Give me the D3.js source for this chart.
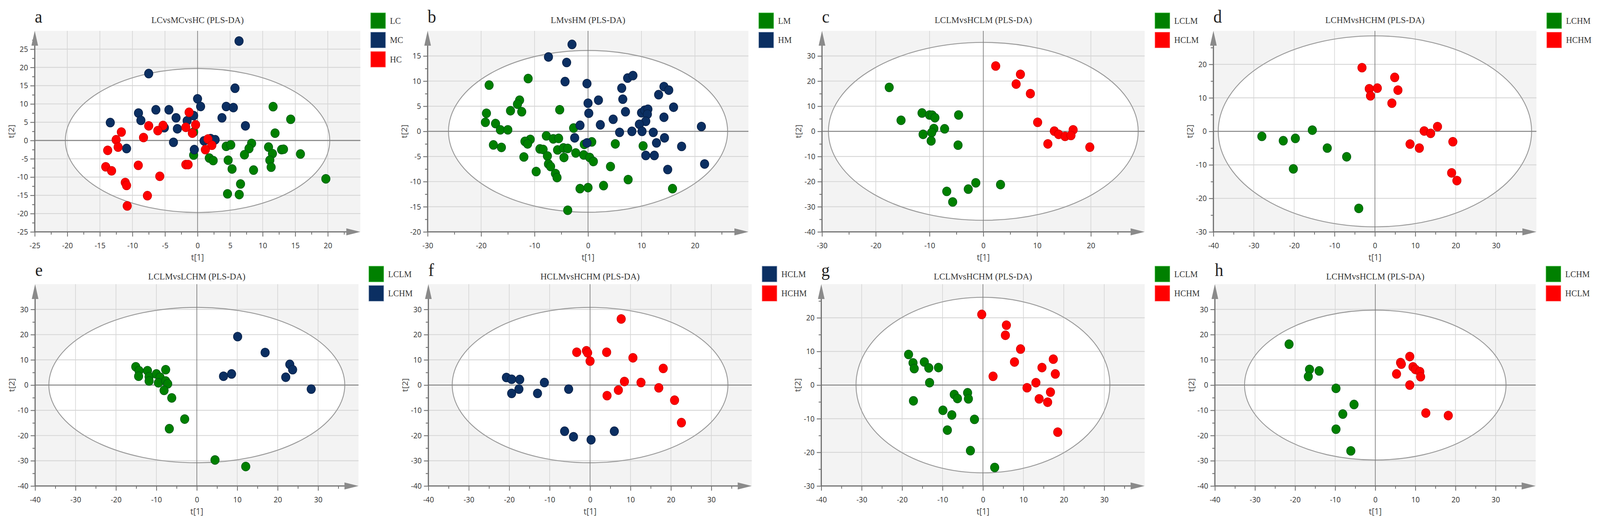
<!DOCTYPE html>
<html><head><meta charset="utf-8">
<script src="https://cdn.jsdelivr.net/npm/d3@7"></script>
<style>html,body{margin:0;padding:0;background:#fff;overflow:hidden;width:100%;height:100%;}svg{display:block;width:100vw;height:100vh;}</style>
</head><body>
<svg id="chart" viewBox="0 0 4329 1345" preserveAspectRatio="none"></svg>
<script>
// ---------------- DATA ----------------
const panelLetters = ["a","b","c","d","e","f","g","h"];
const panelTitles = ["LCvsMCvsHC (PLS-DA)","LMvsHM (PLS-DA)","LCLMvsHCLM (PLS-DA)","LCHMvsHCHM (PLS-DA)",
  "LCLMvsLCHM (PLS-DA)","HCLMvsHCHM (PLS-DA)","LCLMvsHCHM (PLS-DA)","LCHMvsHCLM (PLS-DA)"];
const xLabel = "t[1]";
const yLabel = "t[2]";
const xDomains = [[-25,25],[-30,30],[-30,30],[-40,40],[-40,40],[-40,40],[-40,40],[-40,40]];
const yDomains = [[-25,30],[-20,20],[-40,40],[-30,30],[-40,40],[-40,40],[-30,30],[-40,40]];
const xTickLabels = [
  [-25,-20,-15,-10,-5,0,5,10,15,20],
  [-30,-20,-10,0,10,20],
  [-30,-20,-10,0,10,20],
  [-40,-30,-20,-10,0,10,20,30],
  [-40,-30,-20,-10,0,10,20,30],
  [-40,-30,-20,-10,0,10,20,30],
  [-40,-30,-20,-10,0,10,20,30],
  [-40,-30,-20,-10,0,10,20,30]];
const yTickLabels = [
  [-25,-20,-15,-10,-5,0,5,10,15,20,25],
  [-20,-15,-10,-5,0,5,10,15],
  [-40,-30,-20,-10,0,10,20,30],
  [-30,-20,-10,0,10,20],
  [-40,-30,-20,-10,0,10,20,30],
  [-40,-30,-20,-10,0,10,20,30],
  [-30,-20,-10,0,10,20],
  [-40,-30,-20,-10,0,10,20,30]];
// Hotelling T2 ellipse semi-axes (t[1], t[2])
const ellipseT1 = [20.3,26.1,28.8,38.8,36.6,34.1,31.4,32.6];
const ellipseT2 = [19.7,16.1,35.4,28.5,30.8,30.8,26.1,29.7];
const groupNames = [["LC","MC","HC"],["LM","HM"],["LCLM","HCLM"],["LCHM","HCHM"],
  ["LCLM","LCHM"],["HCLM","HCHM"],["LCLM","HCHM"],["LCHM","HCLM"]];

// scores [t1, t2]
const a_LC = [[11.6,9.25],[14.3,5.8],[11.9,2.0],[-0.6,2.3],[4.4,-1.6],[5.1,-1.2],[8.3,-0.8],[7.9,-2.2],[7.2,-3.9],[10.9,-1.8],[11.5,-3.6],[12.9,-2.5],[13.2,-2.4],[15.8,-3.7],[-0.6,-4.0],[1.8,-4.8],[2.4,-5.5],[4.7,-5.4],[11.1,-5.4],[11.3,-7.3],[5.3,-7.8],[8.6,-8.1],[6.6,-11.9],[19.7,-10.5],[4.6,-14.6],[6.4,-14.8]];
const a_MC = [[6.37,27.2],[-7.5,18.3],[5.75,14.3],[0,11.4],[0.47,9.3],[4.4,9.3],[5.5,9.0],[-9.07,7.5],[-6.4,8.4],[-4.4,8.4],[-8.7,5.5],[-3.3,6.2],[-0.6,6.8],[-1.6,5.4],[3.75,6.2],[-13.4,4.9],[7.35,4.0],[-5.1,3.5],[-3.1,3.2],[-3.7,-0.5],[-10.9,-2.2],[1.0,-0.1],[2.0,0.5],[2.7,0.2],[-0.5,-2.5]];
const a_HC = [[-1.3,7.7],[-7.5,4.0],[-5.3,4.1],[-6.1,2.7],[-1.8,3.6],[-0.3,4.3],[-0.8,2.0],[-11.7,2.3],[-12.5,0.2],[-8.3,0.8],[-12.2,-1.8],[-13.8,-2.7],[1.6,0.4],[2.2,-1.3],[1.2,-2.5],[-14.1,-7.2],[-13.2,-8.3],[-9.1,-6.8],[-1.8,-6.6],[-1.45,-6.6],[-5.8,-9.8],[-11.1,-11.5],[-10.9,-12.3],[-7.7,-15.1],[-10.8,-17.9]];

const b_LM = [[-11.2,10.5],[-18.5,9.2],[-12.8,6.2],[-13.2,5.4],[-5.3,4.3],[-14.5,4.1],[-12.4,3.9],[-19.0,3.6],[-19.2,1.8],[-17.3,1.55],[-16.4,0.3],[-15.0,0.3],[-2.7,0.66],[-7.8,-0.9],[-6.5,-1.5],[-5.5,-1.4],[-10.8,-1.6],[-11.8,-2.0],[-11.3,-2.5],[-17.7,-2.7],[-16.2,-3.2],[-0.7,-2.6],[0.7,-2.1],[5.1,-2.5],[10.3,-2.9],[-9.0,-3.5],[-8.4,-3.6],[-5.7,-3.7],[-4.6,-3.3],[-3.8,-3.4],[-7.6,-4.9],[-2.3,-4.3],[-0.8,-4.7],[0.3,-5.2],[1.0,-6.0],[-12.0,-5.1],[-4.5,-5.2],[-7.4,-6.5],[-7.0,-7.0],[4.2,-7.0],[-9.7,-8.0],[-6.1,-8.4],[-5.8,-9.2],[7.5,-9.6],[-1.5,-11.4],[0,-11.2],[2.9,-10.8],[15.8,-11.4],[-3.8,-15.7]];
const b_HM = [[-3.0,17.3],[-7.4,14.8],[-4.0,13.7],[7.4,10.6],[8.4,11.1],[-4.3,9.9],[-0.2,9.5],[6.3,8.6],[14.2,8.9],[15.1,8.2],[13.2,7.3],[1.95,6.2],[6.5,6.4],[0,5.6],[16.0,4.8],[0.14,3.6],[7.0,3.9],[10.0,3.7],[10.6,4.2],[11.2,4.4],[11.1,3.4],[14.2,2.8],[10.8,2.0],[4.7,2.4],[2.3,1.3],[-1.5,1.2],[9.6,1.4],[21.2,0.96],[5.9,-0.2],[8.2,0],[10.1,0],[12.2,-0.2],[-2.5,-1.3],[14.3,-1.3],[12.8,-2.3],[-0.2,-2.3],[17.5,-3.0],[10.8,-4.8],[12.4,-4.8],[21.8,-6.5],[14.9,-7.6]];

const c_LCLM = [[-17.5,17.5],[-11.4,7.3],[-10.0,6.5],[-9.5,6.4],[-9.0,5.4],[-4.6,6.5],[-15.3,4.4],[-9.2,1.1],[-7.2,1.0],[-11.2,-1.2],[-9.6,-0.5],[-9.7,-3.8],[-4.7,-5.5],[-1.4,-20.5],[3.2,-21.2],[-2.8,-23.0],[-6.8,-23.9],[-5.7,-28.1]];
const c_HCLM = [[2.3,26.0],[6.9,22.7],[6.1,18.8],[8.75,15.0],[10.1,3.6],[13.2,0.1],[16.7,0.6],[14.0,-1.2],[15.2,-2.0],[16.3,-1.65],[12.0,-5.0],[19.8,-6.3]];

const d_LCHM = [[-28.0,-1.5],[-22.7,-2.8],[-19.7,-2.1],[-15.5,0.35],[-11.8,-5.0],[-7.0,-7.6],[-20.2,-11.2],[-4.0,-23.0]];
const d_HCHM = [[-3.2,19.0],[4.9,16.1],[-1.4,12.7],[0.6,12.9],[5.7,12.3],[-1.1,10.6],[4.2,8.4],[15.5,1.4],[12.2,0.1],[13.8,-0.6],[19.3,-3.1],[8.7,-3.8],[11.0,-5.0],[19.0,-12.4],[20.3,-14.7]];

const e_LCLM = [[-15.1,7.25],[-14.3,5.7],[-14.4,3.5],[-12.2,5.7],[-11.8,3.3],[-11.8,1.6],[-10.0,4.4],[-9.1,3.1],[-9.5,0.9],[-7.7,6.1],[-7.7,1.6],[-7.2,0.5],[-8.1,-2.1],[-6.2,-5.1],[-3.0,-13.5],[-6.8,-17.3],[4.5,-29.7],[12.1,-32.3]];
const e_LCHM = [[10.1,19.2],[16.9,12.9],[23.0,8.2],[23.7,6.1],[6.6,3.5],[8.6,4.4],[22.0,3.1],[28.3,-1.6]];

const f_HCLM = [[-20.7,3.0],[-19.4,2.3],[-17.4,2.2],[-11.3,1.0],[-17.6,-1.6],[-19.4,-3.3],[-13.0,-3.3],[-5.3,-1.6],[-6.3,-18.3],[-4.1,-20.5],[0.25,-21.7],[6.0,-18.3]];
const f_HCHM = [[7.7,26.2],[-3.3,13.0],[-0.9,13.6],[-0.6,12.8],[4.1,13.0],[0,9.5],[10.6,10.8],[18.1,6.6],[8.5,1.4],[12.6,1.0],[17.0,-1.1],[7.0,-2.0],[4.2,-4.2],[20.9,-6.0],[22.6,-14.9]];

const g_LCLM = [[-18.4,9.1],[-17.3,6.6],[-17.0,4.9],[-14.5,6.85],[-13.4,5.1],[-11.0,5.2],[-13.2,0.7],[-17.2,-4.7],[-7.1,-2.8],[-6.3,-4.0],[-3.8,-2.3],[-3.6,-4.1],[-9.9,-7.5],[-7.7,-8.9],[-2.1,-10.2],[-8.8,-13.4],[-3.1,-19.5],[2.9,-24.5]];
const g_HCHM = [[-0.3,21.0],[5.8,17.8],[5.55,14.8],[9.3,10.7],[7.8,6.85],[17.4,7.7],[14.6,5.2],[17.9,3.3],[2.5,2.6],[13.1,0.7],[10.9,-0.8],[16.7,-2.1],[13.9,-4.1],[16.0,-5.1],[18.5,-14.0]];

const h_LCHM = [[-21.5,16.2],[-16.4,6.2],[-14.0,5.6],[-16.7,3.4],[-9.8,-1.3],[-5.3,-7.7],[-8.1,-11.5],[-9.8,-17.5],[-6.1,-26.1]];
const h_HCLM = [[8.6,11.3],[6.3,8.9],[6.5,8.3],[9.4,7.2],[10.0,6.2],[11.1,5.3],[11.3,3.3],[5.3,4.4],[8.6,0],[12.6,-11.1],[18.2,-12.1]];

const panelSeries = [[a_LC,a_MC,a_HC],[b_LM,b_HM],[c_LCLM,c_HCLM],[d_LCHM,d_HCHM],
  [e_LCLM,e_LCHM],[f_HCLM,f_HCHM],[g_LCLM,g_HCHM],[h_LCHM,h_HCLM]];

// ---------------- LAYOUT & STYLE ----------------
const plotRects = [[94,79,975,594],[1157,79,2025,594],[2224,79,3097,594],[3283,79,4157,594],
  [95,728,970,1245],[1159,728,2034,1245],[2222,728,3097,1245],[3287,728,4155,1245]];
const rowTitleY = [59, 716];
const rowLetterY = [58, 707];
const colorKeys = [["green","navy","red"],["green","navy"],["green","red"],["green","red"],
  ["green","navy"],["navy","red"],["green","red"],["green","red"]];
const fills = {green:"#008000", navy:"#0b2f62", red:"#ff0000"};
const strokes = {green:"#005a12", navy:"#061f45", red:"#d00000"};
const legendEdge = {green:"#3fbf3f", navy:"#6f86a8", red:"#ff6b6b"};

const svg = d3.select("#chart");
const SERIF = "'Liberation Serif','Times New Roman',serif";
const SANS = "'Open Sans','Noto Sans',sans-serif";

plotRects.forEach((r, i) => {
  const [L, T, R, B] = r;
  const row = i < 4 ? 0 : 1;
  const g = svg.append("g");
  const x = d3.scaleLinear().domain(xDomains[i]).range([L, R]);
  const y = d3.scaleLinear().domain(yDomains[i]).range([B, T]);

  // background
  g.append("rect").attr("x", L).attr("y", T).attr("width", R - L).attr("height", B - T).attr("fill", "#f3f3f3");
  // ellipse fill
  const cx = x(0), cy = y(0);
  const rx = x(ellipseT1[i]) - x(0), ry = y(0) - y(ellipseT2[i]);
  g.append("ellipse").attr("cx", cx).attr("cy", cy).attr("rx", rx).attr("ry", ry).attr("fill", "#ffffff");

  // grid
  const xt = xTickLabels[i], yt = yTickLabels[i];
  const xStep = xt[1] - xt[0], yStep = yt[1] - yt[0];
  g.append("g").selectAll("line").data(xt.filter(v => v !== 0 && x(v) > L + 2)).join("line")
    .attr("x1", d => x(d)).attr("x2", d => x(d)).attr("y1", T).attr("y2", B)
    .attr("stroke", "#d2d2d2").attr("stroke-width", 1.6);
  g.append("g").selectAll("line").data(yt.filter(v => v !== 0 && y(v) < B - 2)).join("line")
    .attr("x1", L).attr("x2", R).attr("y1", d => y(d)).attr("y2", d => y(d))
    .attr("stroke", "#d6d6d6").attr("stroke-width", 2.2);

  // ellipse outline
  g.append("ellipse").attr("cx", cx).attr("cy", cy).attr("rx", rx).attr("ry", ry)
    .attr("fill", "none").attr("stroke", "#9a9a9a").attr("stroke-width", 2.4);

  // zero lines
  g.append("line").attr("x1", L).attr("x2", R).attr("y1", y(0)).attr("y2", y(0))
    .attr("stroke", "#858585").attr("stroke-width", 2.6);
  g.append("line").attr("x1", x(0)).attr("x2", x(0)).attr("y1", T).attr("y2", B)
    .attr("stroke", "#7a7a7a").attr("stroke-width", 1.8);

  // minor ticks (midpoints)
  const xMinor = xt.map(v => v + xStep / 2).filter(v => v < xDomains[i][1]);
  const yMinor = yt.map(v => v + yStep / 2).filter(v => v < yDomains[i][1]);
  const fmt = d => String(d);

  const axB = g.append("g").attr("transform", `translate(0,${B})`)
    .call(d3.axisBottom(x).tickValues(xt).tickSize(12).tickPadding(16).tickFormat(fmt).tickSizeOuter(0));
  const axBm = g.append("g").attr("transform", `translate(0,${B})`)
    .call(d3.axisBottom(x).tickValues(xMinor).tickSize(7).tickFormat("").tickSizeOuter(0));
  const axL = g.append("g").attr("transform", `translate(${L},0)`)
    .call(d3.axisLeft(y).tickValues(yt).tickSize(12).tickPadding(6).tickFormat(fmt).tickSizeOuter(0));
  const axLm = g.append("g").attr("transform", `translate(${L},0)`)
    .call(d3.axisLeft(y).tickValues(yMinor).tickSize(7).tickFormat("").tickSizeOuter(0));
  [axB, axBm, axL, axLm].forEach(a => {
    a.select(".domain").remove();
    a.selectAll(".tick line").attr("stroke", "#707070").attr("stroke-width", 2.2);
    a.selectAll(".tick text").attr("fill", "#333").style("font-family", SANS).style("font-size", "20px");
  });

  // axis lines with arrows
  g.append("line").attr("x1", L).attr("x2", R - 20).attr("y1", B).attr("y2", B)
    .attr("stroke", "#707070").attr("stroke-width", 3.2);
  g.append("line").attr("x1", L).attr("x2", L).attr("y1", B).attr("y2", T + 20)
    .attr("stroke", "#707070").attr("stroke-width", 3.2);
  g.append("path").attr("d", `M${R},${B} L${R - 38},${B - 9} L${R - 38},${B + 9} Z`).attr("fill", "#8a8a8a");
  g.append("path").attr("d", `M${L},${T} L${L - 9},${T + 38} L${L + 9},${T + 38} Z`).attr("fill", "#8a8a8a");

  // points
  panelSeries[i].forEach((series, s) => {
    const key = colorKeys[i][s];
    g.append("g").selectAll("circle").data(series).join("circle")
      .attr("cx", d => x(d[0])).attr("cy", d => y(d[1])).attr("r", 11.5)
      .attr("fill", fills[key]).attr("stroke", strokes[key]).attr("stroke-width", 1.4);
  });

  // axis labels
  g.append("text").attr("x", (L + R) / 2).attr("y", B + 73).attr("text-anchor", "middle")
    .style("font-family", SANS).style("font-size", "22px").attr("fill", "#444").text(xLabel);
  g.append("text").attr("transform", `translate(${L - 56},${(T + B) / 2}) rotate(-90)`)
    .attr("text-anchor", "middle").style("font-family", SANS).style("font-size", "22px")
    .attr("fill", "#444").text(yLabel);

  // title & panel letter
  g.append("text").attr("x", (L + R) / 2).attr("y", rowTitleY[row]).attr("text-anchor", "middle")
    .style("font-family", SERIF).style("font-size", "24px").attr("fill", "#333").text(panelTitles[i]);
  g.append("text").attr("x", L).attr("y", rowLetterY[row]).attr("text-anchor", "start")
    .style("font-family", SERIF).style("font-size", "46px").attr("fill", "#222").text(panelLetters[i]);

  // legend
  const lg = g.append("g").attr("transform", `translate(${R + 28},${T - 46})`);
  groupNames[i].forEach((name, s) => {
    const key = colorKeys[i][s];
    lg.append("rect").attr("x", 0).attr("y", s * 49.5).attr("width", 40).attr("height", 40)
      .attr("fill", fills[key]).attr("stroke", legendEdge[key]).attr("stroke-width", 1.2);
    lg.append("text").attr("x", 52).attr("y", s * 49.5 + 28).style("font-family", SERIF)
      .style("font-size", "23px").attr("fill", "#333").text(name);
  });
});
</script>
</body></html>
